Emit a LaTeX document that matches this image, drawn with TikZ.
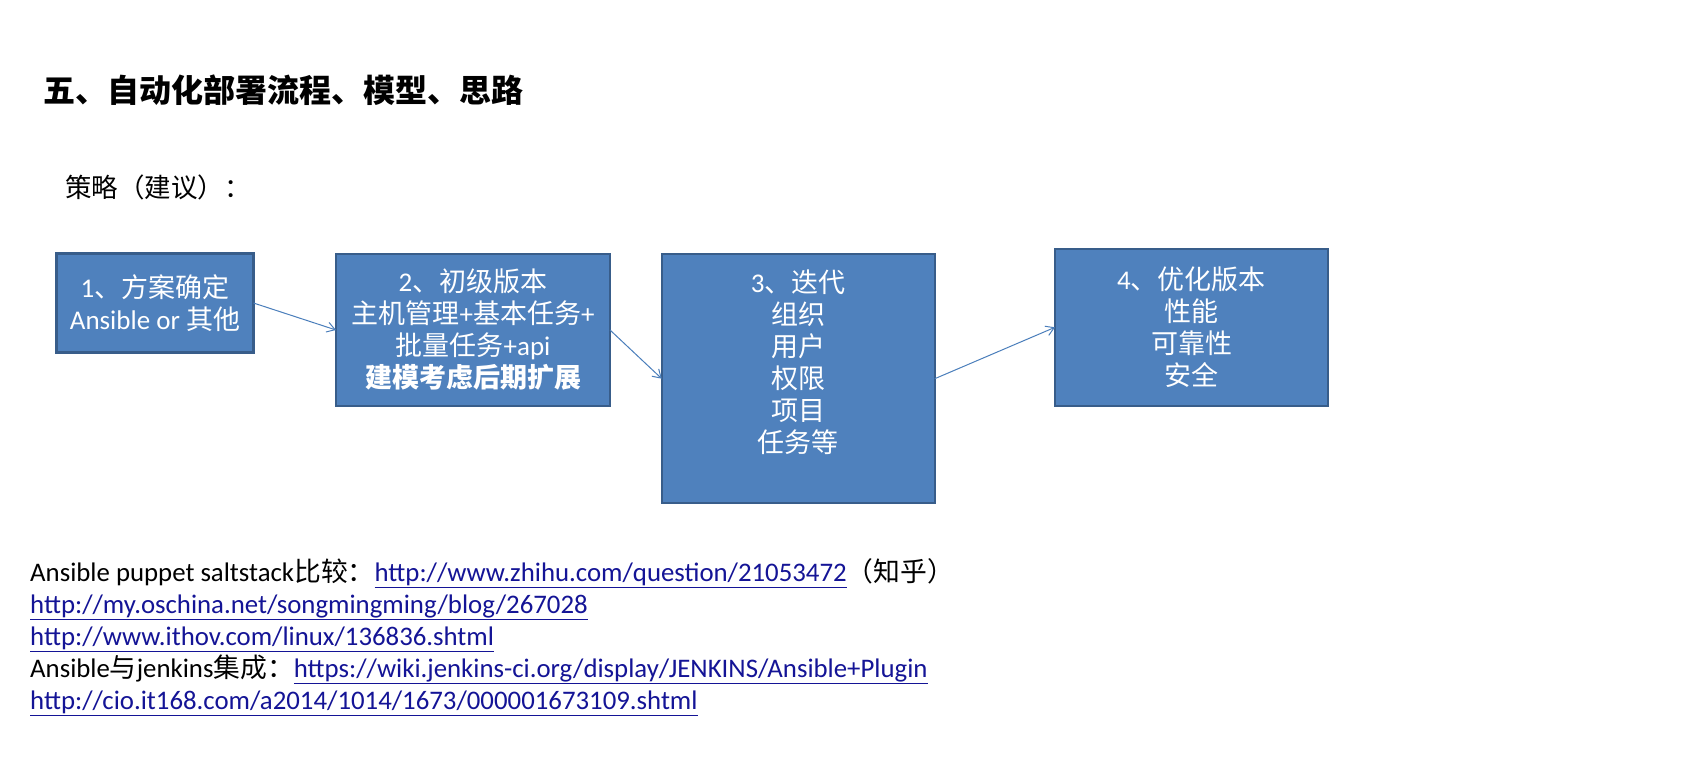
\documentclass[tikz,border=0pt]{standalone}
\usepackage{fontspec}
\setmainfont{Carlito}
\newfontfamily\cjkfont{Noto Sans CJK SC}
\newcommand\zh[1]{{\cjkfont #1}}
\usetikzlibrary{arrows.meta}
\definecolor{boxfill}{HTML}{4F81BD}
\definecolor{boxline}{HTML}{385D8A}
\definecolor{arrowc}{HTML}{4A7EBB}
\definecolor{linkc}{RGB}{20,20,150}
\newcommand\lnk[1]{\textcolor{linkc}{\underline{#1}}}
\begin{document}
\begin{tikzpicture}[x=1pt,y=-1pt,
  stepbox/.style={draw=boxline, fill=boxfill, line width=2.5pt, inner sep=0pt, outer sep=0pt},
  boxtext/.style={text=white, align=center, font=\fontsize{27}{32}\selectfont, inner sep=0pt},
  flow/.style={draw=arrowc, line width=1pt, -{Straight Barb[length=8pt,width=10pt]}},
  textline/.style={anchor=base west, inner sep=0pt, font=\fontsize{26.8}{32}\selectfont}]

\useasboundingbox[fill=white] (0,0) rectangle (1701,756);

% title and subtitle
\node[anchor=west, inner sep=0pt, font=\fontsize{32}{38}\selectfont\cjkfont\bfseries] (title) at (43,90) {五、自动化部署流程、模型、思路};
\node[anchor=west, inner sep=0pt, font=\fontsize{26.5}{30}\selectfont\cjkfont] (strategy) at (65,187) {策略（建议）：};

% boxes
\node[stepbox, boxtext, minimum width=197pt, minimum height=99pt] (b1) at (155,303)
  {1\zh{、方案确定}\\Ansible or \zh{其他}};
\node[stepbox, boxtext, minimum width=274pt, minimum height=152pt] (b2) at (473,330)
  {2\zh{、初级版本}\\\zh{主机管理}+\zh{基本任务}+\\\zh{批量任务}+api\\\zh{\bfseries 建模考虑后期扩展}};
\node[stepbox, minimum width=273pt, minimum height=249pt] (b3) at (798.3,378.7) {};
\node[boxtext, anchor=north] (b3t) at ([yshift=-15pt]b3.north)
  {3\zh{、迭代}\\\zh{组织}\\\zh{用户}\\\zh{权限}\\\zh{项目}\\\zh{任务等}};
\node[stepbox, boxtext, minimum width=273pt, minimum height=157pt] (b4) at (1191.5,327.3)
  {4\zh{、优化版本}\\\zh{性能}\\\zh{可靠性}\\\zh{安全}};

% connectors
\draw[flow] (b1.east) -- (b2.west);
\draw[flow] (b2.east) -- (b3.west);
\draw[flow] (b3.east) -- (b4.west);

% references
\node[textline] (l1) at (30,581.5) {Ansible puppet saltstack\zh{比较：}\lnk{http://www.zhihu.com/question/21053472}\zh{（知乎）}};
\node[textline] (l2) at (30,613.5) {\lnk{http://my.oschina.net/songmingming/blog/267028}};
\node[textline] (l3) at (30,645.5) {\lnk{http://www.ithov.com/linux/136836.shtml}};
\node[textline] (l4) at (30,677.5) {Ansible\zh{与}jenkins\zh{集成：}\lnk{https://wiki.jenkins-ci.org/display/JENKINS/Ansible+Plugin}};
\node[textline] (l5) at (30,709.5) {\lnk{http://cio.it168.com/a2014/1014/1673/000001673109.shtml}};
\end{tikzpicture}
\end{document}
